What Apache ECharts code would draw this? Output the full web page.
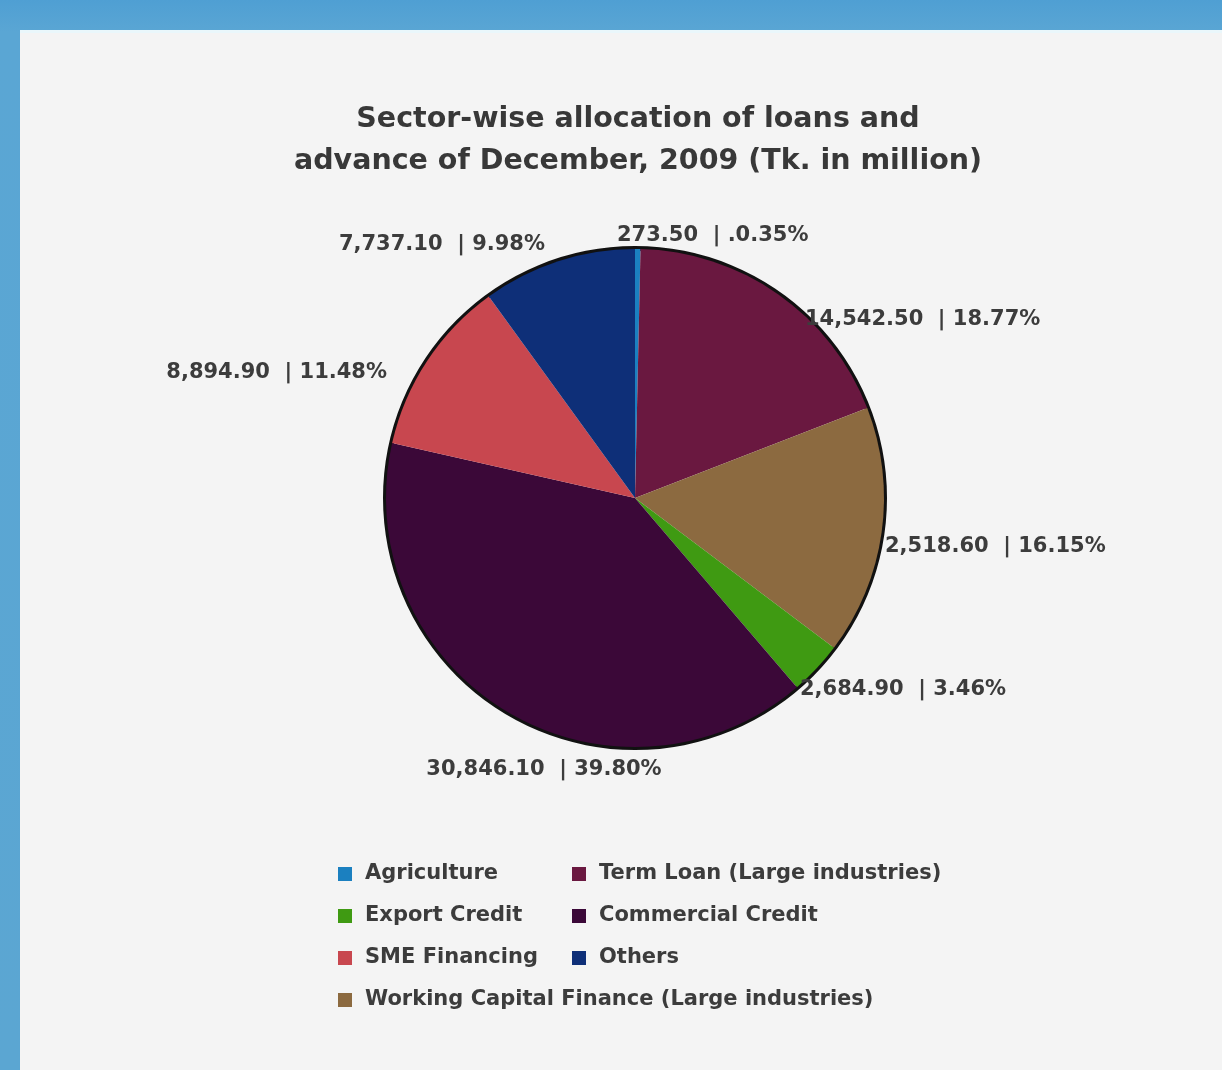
<!DOCTYPE html>
<html>
<head>
<meta charset="utf-8">
<script src="https://cdn.jsdelivr.net/npm/echarts@6/dist/echarts.min.js"></script>
<style>
html,body{margin:0;padding:0;background:#5aa4d2;}
#chart{width:1222px;height:1070px;}
</style>
</head>
<body>
<div id="chart"></div>
<script>
// ---- data ----
const categories = ['Agriculture','Term Loan (Large industries)','Working Capital Finance (Large industries)','Export Credit','Commercial Credit','SME Financing','Others'];
const values = [273.50, 14542.50, 12518.60, 2684.90, 30846.10, 8894.90, 7737.10];
const valueLabels = ['273.50','14,542.50','2,518.60','2,684.90','30,846.10','8,894.90','7,737.10'];
const percentLabels = ['.0.35%','18.77%','16.15%','3.46%','39.80%','11.48%','9.98%'];
const legendColumn1 = ['Agriculture','Export Credit','SME Financing','Working Capital Finance (Large industries)'];
const legendColumn2 = ['Term Loan (Large industries)','Commercial Credit','Others'];

// ---- styling ----
const colors = ['#1b80c0','#6a1840','#8c6a40','#3f9a12','#3b0838','#c8474f','#0e2f78'];
// label anchor spots [x, y, align]
const labelSpots = [
  [617,236,'left'],[805,320,'left'],[885,547,'left'],[800,690,'left'],
  [544,770,'center'],[387,373,'right'],[545,245,'right']
];
const FONT = 'DejaVu Sans';
const total = values.reduce((a,b)=>a+b,0);

const chart = echarts.init(document.getElementById('chart'));
const legendText = {fontFamily:FONT,fontSize:21,fontWeight:'bold',color:'#3c3c3c',lineHeight:28,padding:[0,0,0,8]};
chart.setOption({
  backgroundColor:'transparent',
  animation:false,
  color:colors,
  graphic:[
    {type:'rect',z:-10,shape:{x:0,y:0,width:1222,height:1070},style:{fill:new echarts.graphic.LinearGradient(0,0,0,1,[{offset:0,color:'#4f9fd3'},{offset:0.03,color:'#5aa6d4'},{offset:1,color:'#5ba6d2'}])}},
    {type:'rect',z:-9,shape:{x:20,y:30,width:1202,height:1040},style:{fill:'#f4f4f4'}},
    {type:'rect',z:-8,shape:{x:20,y:30,width:1202,height:3},style:{fill:'#eaf7fb'}}
  ],
  title:{
    text:'Sector-wise allocation of loans and\nadvance of December, 2009 (Tk. in million)',
    left:633, top:94, textAlign:'center',
    textStyle:{fontFamily:FONT,fontSize:28.5,fontWeight:'bold',color:'#383838',lineHeight:42}
  },
  legend:[
    {orient:'vertical',left:333,top:855,itemWidth:14,itemHeight:14,itemGap:14,icon:'rect',data:legendColumn1,textStyle:legendText,selectedMode:false},
    {orient:'vertical',left:567,top:855,itemWidth:14,itemHeight:14,itemGap:14,icon:'rect',data:legendColumn2,textStyle:legendText,selectedMode:false}
  ],
  series:[
    {
      type:'pie', name:'outline', silent:true, z:1,
      center:[635,498], radius:[247,252], startAngle:90,
      label:{show:false}, labelLine:{show:false},
      itemStyle:{color:'#111'},
      data:[{name:'__outline', value:total}]
    },
    {
      type:'pie', z:2,
      center:[635,498], radius:[0,249], startAngle:90, clockwise:true,
      avoidLabelOverlap:false,
      label:{
        show:true, position:'outside',
        fontFamily:FONT, fontSize:21, fontWeight:'bold', color:'#3c3c3c',
        formatter:p=>valueLabels[p.dataIndex]+'  | '+percentLabels[p.dataIndex]
      },
      labelLine:{show:false,length:0,length2:0},
      labelLayout:p=>{
        const s=labelSpots[p.dataIndex];
        return {x:s[0],y:s[1],align:s[2],verticalAlign:'middle'};
      },
      itemStyle:{borderWidth:0},
      data:categories.map((c,i)=>({name:c,value:values[i]}))
    }
  ]
});
</script>
</body>
</html>
